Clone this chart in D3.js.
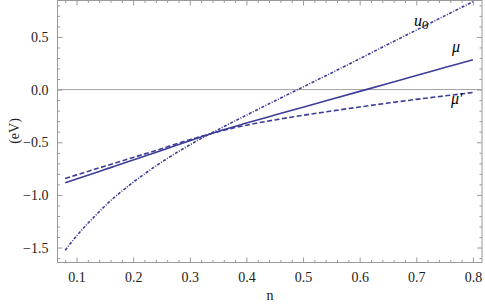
<!DOCTYPE html>
<html>
<head>
<meta charset="utf-8">
<script src="https://cdn.jsdelivr.net/npm/d3@7"></script>
<style>
  body { margin: 0; background: #fff; }
</style>
</head>
<body>
<script>
// values
var nVals  = [0.08, 0.10, 0.12, 0.14, 0.16, 0.18, 0.20, 0.25, 0.30, 0.35, 0.40, 0.45, 0.50, 0.55, 0.60, 0.65, 0.70, 0.75, 0.80];
var u0     = [-1.525, -1.39, -1.27, -1.16, -1.055, -0.965, -0.88, -0.69, -0.525, -0.38, -0.243, -0.108, 0.025, 0.158, 0.293, 0.43, 0.565, 0.70, 0.835];
var mu     = [-0.885, -0.849, -0.813, -0.777, -0.741, -0.705, -0.669, -0.578, -0.485, -0.397, -0.318, -0.242, -0.167, -0.092, -0.017, 0.058, 0.134, 0.209, 0.284];
var muP    = [-0.844, -0.81, -0.777, -0.744, -0.711, -0.678, -0.645, -0.561, -0.476, -0.4, -0.338, -0.288, -0.244, -0.204, -0.165, -0.128, -0.093, -0.06, -0.028];
var xTicks = [0.1, 0.2, 0.3, 0.4, 0.5, 0.6, 0.7, 0.8];
var yTicks = [-1.5, -1.0, -0.5, 0.0, 0.5];

var w = 485, h = 307;
var pLeft = 57.5, pRight = 482, pTop = 0.5, pBottom = 262.5;
var lineColor = "#3d3d99";
var serif = "'Liberation Serif', 'Times New Roman', Times, 'DejaVu Serif', serif";

var svg = d3.select("body").append("svg")
    .attr("width", w)
    .attr("height", h)
    .style("font-family", serif);

var x = d3.scaleLinear().domain([0.0664, 0.816]).range([pLeft, pRight]);
var y = d3.scaleLinear().domain([-1.642, 0.846]).range([pBottom, pTop]);

var minorX = d3.range(0.08, 0.82, 0.02).filter(function(v) { return Math.abs(v * 10 - Math.round(v * 10)) > 0.01; });
var minorY = d3.range(-1.6, 0.85, 0.1).filter(function(v) { return Math.abs(v * 2 - Math.round(v * 2)) > 0.01; });

// zero line
svg.append("line")
    .attr("x1", pLeft).attr("x2", pRight)
    .attr("y1", y(0)).attr("y2", y(0))
    .attr("stroke", "#a0a0a0").attr("stroke-width", 1);

function fmt(d) { return d3.format(".1f")(d).replace("-", "\u2212"); }

function styleAxis(g) {
  g.attr("font-family", null);
  g.selectAll(".domain").remove();
  g.selectAll("line").attr("stroke", "#9a9a9a");
  g.selectAll("text").attr("font-size", "14px").attr("fill", "#222").style("font-family", serif);
}

// bottom
svg.append("g").attr("transform", "translate(0," + pBottom + ")")
    .call(d3.axisBottom(x).tickValues(xTicks).tickSizeInner(-5).tickSizeOuter(0).tickPadding(10).tickFormat(d3.format(".1f")))
    .call(styleAxis);
svg.append("g").attr("transform", "translate(0," + pBottom + ")")
    .call(d3.axisBottom(x).tickValues(minorX).tickSizeInner(-2.5).tickSizeOuter(0).tickFormat(""))
    .call(styleAxis);
// top
svg.append("g").attr("transform", "translate(0," + pTop + ")")
    .call(d3.axisTop(x).tickValues(xTicks).tickSizeInner(-5).tickSizeOuter(0).tickFormat(""))
    .call(styleAxis);
svg.append("g").attr("transform", "translate(0," + pTop + ")")
    .call(d3.axisTop(x).tickValues(minorX).tickSizeInner(-2.5).tickSizeOuter(0).tickFormat(""))
    .call(styleAxis);
// left
svg.append("g").attr("transform", "translate(" + pLeft + ",0)")
    .call(d3.axisLeft(y).tickValues(yTicks).tickSizeInner(-5).tickSizeOuter(0).tickPadding(9).tickFormat(fmt))
    .call(styleAxis);
svg.append("g").attr("transform", "translate(" + pLeft + ",0)")
    .call(d3.axisLeft(y).tickValues(minorY).tickSizeInner(-2.5).tickSizeOuter(0).tickFormat(""))
    .call(styleAxis);
// right
svg.append("g").attr("transform", "translate(" + pRight + ",0)")
    .call(d3.axisRight(y).tickValues(yTicks).tickSizeInner(-5).tickSizeOuter(0).tickFormat(""))
    .call(styleAxis);
svg.append("g").attr("transform", "translate(" + pRight + ",0)")
    .call(d3.axisRight(y).tickValues(minorY).tickSizeInner(-2.5).tickSizeOuter(0).tickFormat(""))
    .call(styleAxis);

// frame
svg.append("rect")
    .attr("x", pLeft).attr("y", pTop)
    .attr("width", pRight - pLeft).attr("height", pBottom - pTop)
    .attr("fill", "none").attr("stroke", "#9a9a9a").attr("stroke-width", 1);

var line = d3.line()
    .x(function(d, i) { return x(nVals[i]); })
    .y(function(d) { return y(d); })
    .curve(d3.curveMonotoneX);

var series = [
  { vals: u0,  dash: "3,1.5,1,1.5" },
  { vals: mu,  dash: null },
  { vals: muP, dash: "5,2.5" }
];

svg.selectAll("path.curve")
    .data(series)
    .enter()
    .append("path")
    .attr("class", "curve")
    .attr("d", function(d) { return line(d.vals); })
    .attr("fill", "none")
    .attr("stroke", lineColor)
    .attr("stroke-width", 1.6)
    .attr("stroke-dasharray", function(d) { return d.dash; });

// curve labels
var u0Label = svg.append("text").attr("x", 414).attr("y", 26)
    .attr("font-size", "16px").attr("font-style", "italic");
u0Label.append("tspan").text("u");
u0Label.append("tspan").attr("dy", 3).attr("font-size", "13px").attr("font-style", "normal").text("0");

svg.append("text").attr("x", 452).attr("y", 52)
    .attr("font-size", "16px").attr("font-style", "italic").text("\u03bc");
svg.append("text").attr("x", 451).attr("y", 104)
    .attr("font-size", "16px").attr("font-style", "italic").text("\u03bc'");

// axis titles
svg.append("text")
    .attr("transform", "translate(19,131) rotate(-90)")
    .attr("text-anchor", "middle")
    .attr("font-size", "14px")
    .attr("fill", "#222")
    .text("(eV)");
svg.append("text")
    .attr("x", 270).attr("y", 300)
    .attr("text-anchor", "middle")
    .attr("font-size", "14px")
    .attr("fill", "#222")
    .text("n");
</script>
</body>
</html>
